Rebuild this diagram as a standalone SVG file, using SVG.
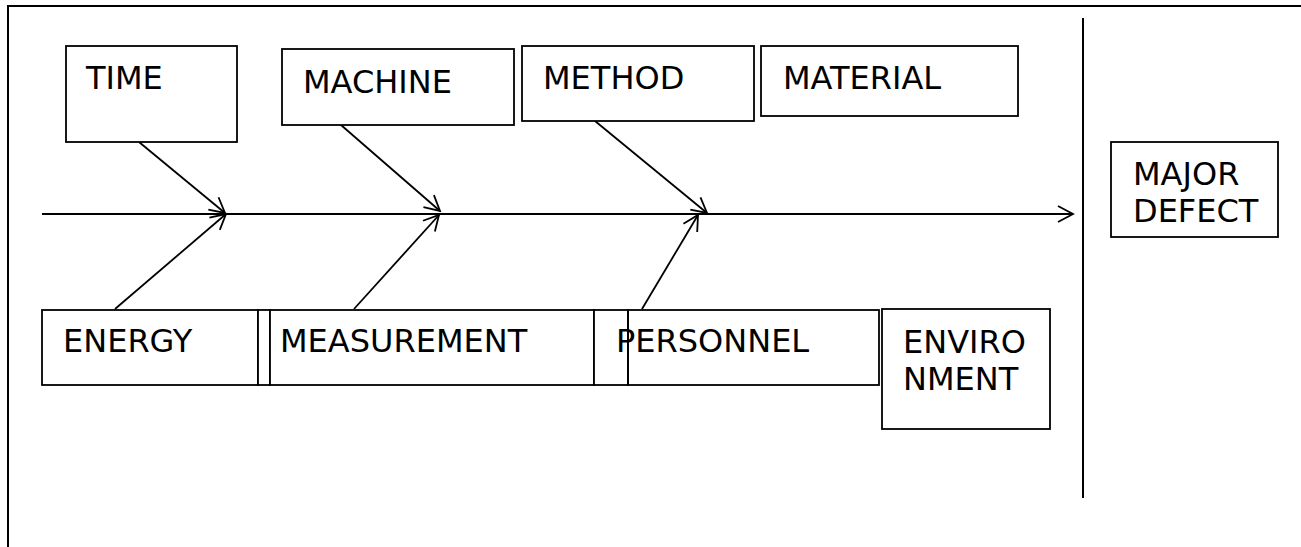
<svg xmlns="http://www.w3.org/2000/svg" width="1301" height="547" viewBox="0 0 1301 547">
  <style>
    .box { fill: #ffffff; stroke: #000000; stroke-width: 1.8; }
    .lbl { font-family: "DejaVu Sans", Verdana, sans-serif; font-size: 32px; fill: #000000; }
    .bone { fill: none; stroke: #000000; stroke-width: 1.8; }
  </style>
  <defs>
    <marker id="head" markerUnits="userSpaceOnUse" markerWidth="22" markerHeight="22" refX="16" refY="9" orient="auto">
      <path d="M1,1 L16,9 L1,17" fill="none" stroke="#000000" stroke-width="1.8"/>
    </marker>
  </defs>

  <rect width="1301" height="547" fill="#ffffff"/>

  <!-- outer frame -->
  <path d="M8,547 L8,6 L1301,6" fill="none" stroke="#000000" stroke-width="2"/>

  <!-- divider between causes and effect -->
  <line x1="1083" y1="18" x2="1083" y2="498" stroke="#000000" stroke-width="2"/>

  <!-- connectors -->
  <g id="connectors">
    <line class="bone" x1="42" y1="214" x2="1073" y2="214" marker-end="url(#head)"/>
    <line class="bone" x1="139" y1="142" x2="225" y2="213" marker-end="url(#head)"/>
    <line class="bone" x1="115" y1="309" x2="226" y2="214" marker-end="url(#head)"/>
    <line class="bone" x1="341" y1="125" x2="440" y2="211" marker-end="url(#head)"/>
    <line class="bone" x1="354" y1="309" x2="439" y2="215" marker-end="url(#head)"/>
    <line class="bone" x1="595" y1="121" x2="707" y2="213" marker-end="url(#head)"/>
    <line class="bone" x1="642" y1="309" x2="698" y2="215" marker-end="url(#head)"/>
  </g>

  <g id="time">
    <rect class="box" x="66" y="46" width="171" height="96"/>
    <text class="lbl" x="86" y="89">TIME</text>
  </g>
  <g id="machine">
    <rect class="box" x="282" y="49" width="232" height="76"/>
    <text class="lbl" x="303" y="93">MACHINE</text>
  </g>
  <g id="method">
    <rect class="box" x="522" y="46" width="232" height="75"/>
    <text class="lbl" x="543" y="89">METHOD</text>
  </g>
  <g id="material">
    <rect class="box" x="761" y="46" width="257" height="70"/>
    <text class="lbl" x="783" y="89">MATERIAL</text>
  </g>

  <g id="energy">
    <rect class="box" x="42" y="310" width="216" height="75"/>
    <rect class="box" x="258" y="310" width="12" height="75"/>
    <text class="lbl" x="63" y="352">ENERGY</text>
  </g>
  <g id="measurement">
    <rect class="box" x="270" y="310" width="324" height="75"/>
    <rect class="box" x="594" y="310" width="34" height="75"/>
    <text class="lbl" x="280" y="352">MEASUREMENT</text>
  </g>
  <g id="personnel">
    <rect class="box" x="628" y="310" width="251" height="75"/>
    <text class="lbl" x="616" y="352">PERSONNEL</text>
    <line x1="628" y1="310" x2="628" y2="385" stroke="#000000" stroke-width="1.8"/>
  </g>
  <g id="environment">
    <rect class="box" x="882" y="309" width="168" height="120"/>
    <text class="lbl" x="903" y="353">ENVIRO</text>
    <text class="lbl" x="903" y="390">NMENT</text>
  </g>

  <g id="major-defect">
    <rect class="box" x="1111" y="142" width="167" height="95"/>
    <text class="lbl" x="1133" y="185">MAJOR</text>
    <text class="lbl" x="1133" y="222">DEFECT</text>
  </g>
</svg>
